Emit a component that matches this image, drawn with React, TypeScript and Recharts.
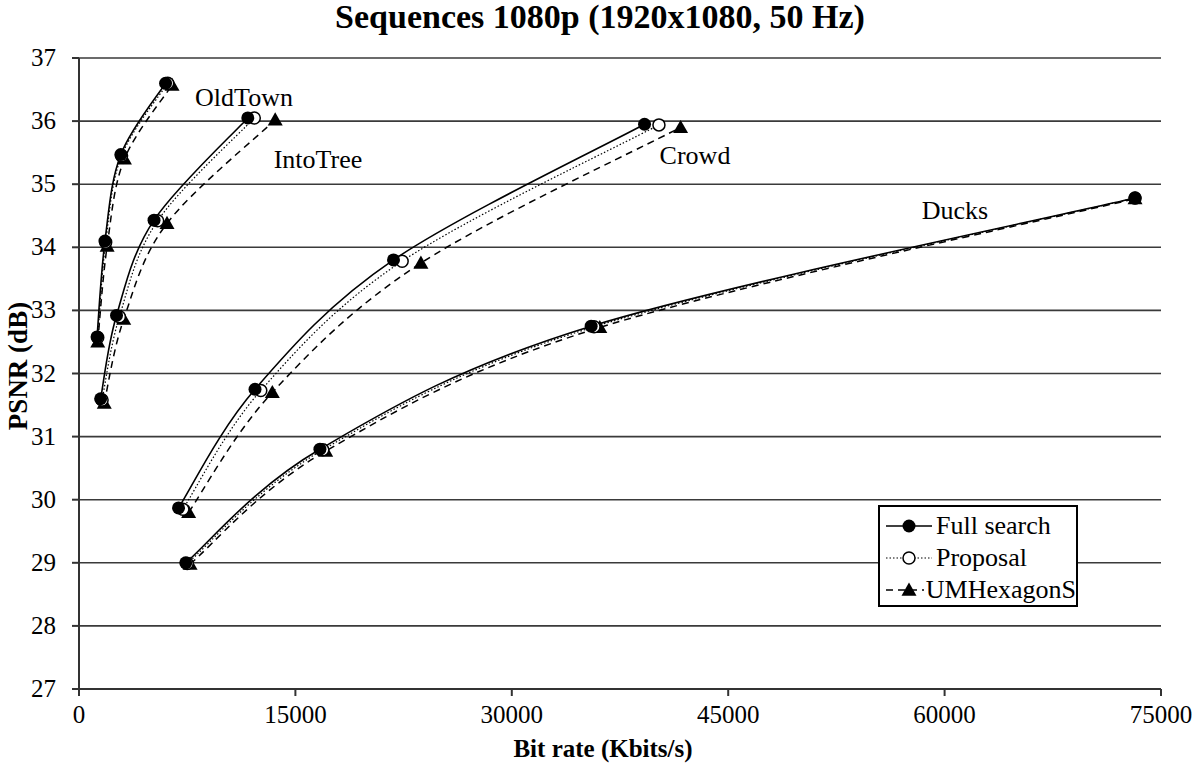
import React from "react";
import { LineChart, Line, XAxis, YAxis, CartesianGrid } from "recharts";

// [bit rate (Kbits/s), PSNR (dB)] for each sequence and method
const oldTownFull = [[1250, 32.58], [1800, 34.1], [2900, 35.47], [6000, 36.6]];
const oldTownProposal = [[1300, 32.57], [1850, 34.08], [2950, 35.45], [6150, 36.6]];
const oldTownUmhex = [[1300, 32.5], [1950, 34.02], [3150, 35.4], [6450, 36.57]];

const intoTreeFull = [[1500, 31.6], [2600, 32.92], [5200, 34.43], [11700, 36.05]];
const intoTreeProposal = [[1600, 31.58], [2800, 32.9], [5450, 34.42], [12150, 36.05]];
const intoTreeUmhex = [[1750, 31.53], [3100, 32.86], [6100, 34.38], [13600, 36.02]];

const crowdFull = [[6900, 29.87], [12200, 31.75], [21800, 33.8], [39200, 35.95]];
const crowdProposal = [[7200, 29.85], [12600, 31.73], [22400, 33.78], [40200, 35.94]];
const crowdUmhex = [[7600, 29.8], [13400, 31.7], [23700, 33.75], [41700, 35.9]];

const ducksFull = [[7400, 29.0], [16700, 30.8], [35500, 32.75], [73200, 34.78]];
const ducksProposal = [[7500, 28.99], [16900, 30.79], [35700, 32.74], [73200, 34.78]];
const ducksUmhex = [[7700, 28.98], [17100, 30.77], [36100, 32.73], [73200, 34.77]];

const xTicks = [0, 15000, 30000, 45000, 60000, 75000];
const yTicks = [27, 28, 29, 30, 31, 32, 33, 34, 35, 36, 37];

const methods = ["Full search", "Proposal", "UMHexagonS"];

const FONT = '"Liberation Serif", "Times New Roman", serif';

type Pt = { x: number; y: number };
const toPts = (arr: number[][]): Pt[] => arr.map(([x, y]) => ({ x, y }));

// Excel-like smoothed line: Catmull-Rom style bezier, ends repeat the end point
function excelCurve(context: any) {
  let pts: number[][] = [];
  return {
    areaStart() {},
    areaEnd() {},
    lineStart() {
      pts = [];
    },
    point(x: number, y: number) {
      pts.push([+x, +y]);
    },
    lineEnd() {
      if (!pts.length) return;
      context.moveTo(pts[0][0], pts[0][1]);
      for (let i = 0; i < pts.length - 1; i++) {
        const p0 = pts[i - 1] || pts[i];
        const p1 = pts[i];
        const p2 = pts[i + 1];
        const p3 = pts[i + 2] || p2;
        context.bezierCurveTo(
          p1[0] + (p2[0] - p0[0]) / 6,
          p1[1] + (p2[1] - p0[1]) / 6,
          p2[0] - (p3[0] - p1[0]) / 6,
          p2[1] - (p3[1] - p1[1]) / 6,
          p2[0],
          p2[1]
        );
      }
    },
  };
}

function FilledCircle(props: any) {
  const { cx, cy, index } = props;
  return <circle key={`fc-${index}-${cx}`} cx={cx} cy={cy} r={6.5} fill="#000" />;
}

function OpenCircle(props: any) {
  const { cx, cy, index } = props;
  return (
    <circle
      key={`oc-${index}-${cx}`}
      cx={cx}
      cy={cy}
      r={6}
      fill="#fff"
      stroke="#000"
      strokeWidth={1.5}
    />
  );
}

function Triangle(props: any) {
  const { cx, cy, index } = props;
  const s = 7.5;
  return (
    <polygon
      key={`tr-${index}-${cx}`}
      points={`${cx},${cy - s} ${cx - s},${cy + s * 0.75} ${cx + s},${cy + s * 0.75}`}
      fill="#000"
    />
  );
}

// line style per method
const STYLES = [
  { dash: undefined, width: 1.6, dot: FilledCircle },
  { dash: "1.5 2", width: 1.2, dot: OpenCircle },
  { dash: "7 5", width: 1.5, dot: Triangle },
];

const series = [
  { name: "OldTown", data: [oldTownFull, oldTownProposal, oldTownUmhex] },
  { name: "IntoTree", data: [intoTreeFull, intoTreeProposal, intoTreeUmhex] },
  { name: "Crowd", data: [crowdFull, crowdProposal, crowdUmhex] },
  { name: "Ducks", data: [ducksFull, ducksProposal, ducksUmhex] },
];

const renderXTick = (p: any) => (
  <text
    key={`xt-${p.payload.value}`}
    x={p.x}
    y={p.y + 27}
    textAnchor="middle"
    fill="#000"
    fontFamily="Liberation Serif"
    fontSize={25}
  >
    {p.payload.value}
  </text>
);

const renderYTick = (p: any) => (
  <text
    key={`yt-${p.payload.value}`}
    x={p.x}
    y={p.y + 8}
    textAnchor="end"
    fill="#000"
    fontFamily="Liberation Serif"
    fontSize={25}
  >
    {p.payload.value}
  </text>
);

function LegendBox() {
  return (
    <div
      style={{
        position: "absolute",
        left: 878,
        top: 505,
        border: "2px solid #000",
        background: "#fff",
        width: 200,
        height: 102,
        boxSizing: "border-box",
        padding: "3px 0 0 4px",
        fontFamily: FONT,
        fontSize: 26,
        color: "#000",
      }}
    >
      {methods.map((m, i) => {
        const st = STYLES[i];
        const Dot = st.dot;
        return (
          <div key={m} style={{ display: "flex", alignItems: "center", height: 32 }}>
            <svg width={50} height={20} style={{ marginRight: 2 }}>
              <line
                x1={2}
                y1={10}
                x2={48}
                y2={10}
                stroke="#000"
                strokeWidth={st.width}
                strokeDasharray={st.dash}
              />
              <Dot cx={25} cy={10} index={i} />
            </svg>
            <span style={{ lineHeight: 1 }}>{m}</span>
          </div>
        );
      })}
    </div>
  );
}

const seqLabels = [
  { text: "OldTown", left: 244, top: 98 },
  { text: "IntoTree", left: 318, top: 160 },
  { text: "Crowd", left: 695, top: 156 },
  { text: "Ducks", left: 955, top: 211 },
];

export default function App() {
  return (
    <div
      style={{
        position: "absolute",
        left: 0,
        top: 0,
        width: 1200,
        height: 772,
        background: "#fff",
        fontFamily: FONT,
      }}
    >
      <div
        style={{
          position: "absolute",
          left: 600,
          top: 17,
          transform: "translate(-50%, -50%)",
          fontSize: 34,
          fontWeight: "bold",
          whiteSpace: "nowrap",
        }}
      >
        Sequences 1080p (1920x1080, 50 Hz)
      </div>
      <div
        style={{
          position: "absolute",
          left: 18,
          top: 366,
          transform: "translate(-50%, -50%) rotate(-90deg)",
          fontSize: 27,
          fontWeight: "bold",
          whiteSpace: "nowrap",
        }}
      >
        PSNR (dB)
      </div>
      <div
        style={{
          position: "absolute",
          left: 603,
          top: 749,
          transform: "translate(-50%, -50%)",
          fontSize: 25,
          fontWeight: "bold",
          whiteSpace: "nowrap",
        }}
      >
        Bit rate (Kbits/s)
      </div>

      <LineChart
        width={1200}
        height={772}
        margin={{ top: 58, right: 39, bottom: 53, left: 0 }}
        style={{ position: "absolute", left: 0, top: 0, fontFamily: FONT }}
      >
        <CartesianGrid vertical={false} stroke="#3a3a3a" strokeWidth={1.6} />
        <XAxis
          type="number"
          dataKey="x"
          domain={[0, 75000]}
          ticks={xTicks}
          interval={0}
          height={30}
          tickSize={7}
          tickMargin={0}
          stroke="#333"
          strokeWidth={2}
          tick={renderXTick}
          allowDuplicatedCategory={false}
        />
        <YAxis
          type="number"
          domain={[27, 37]}
          ticks={yTicks}
          interval={0}
          width={79}
          tickSize={7}
          tickMargin={16}
          stroke="#333"
          strokeWidth={2}
          tick={renderYTick}
        />
        {series.flatMap((s) =>
          [2, 1, 0].map((mi) => {
            const st = STYLES[mi];
            return (
              <Line
                key={`${s.name}-${mi}`}
                data={toPts(s.data[mi])}
                dataKey="y"
                name={`${s.name} ${methods[mi]}`}
                type={excelCurve as any}
                stroke="#000"
                strokeWidth={st.width}
                strokeDasharray={st.dash}
                dot={st.dot}
                activeDot={false}
                isAnimationActive={false}
              />
            );
          })
        )}
      </LineChart>

      <LegendBox />

      {seqLabels.map((l) => (
        <div
          key={l.text}
          style={{
            position: "absolute",
            left: l.left,
            top: l.top,
            transform: "translate(-50%, -50%)",
            fontSize: 26,
            whiteSpace: "nowrap",
          }}
        >
          {l.text}
        </div>
      ))}
    </div>
  );
}
